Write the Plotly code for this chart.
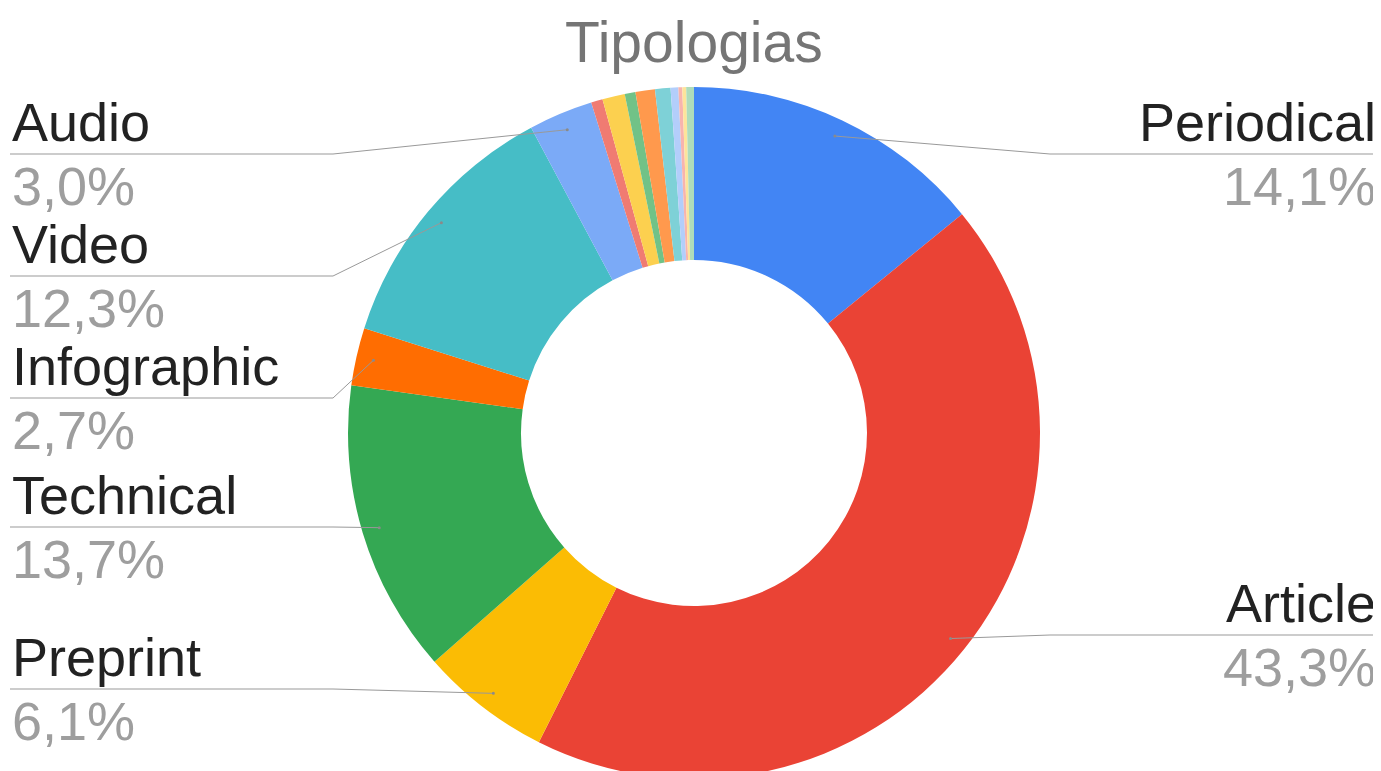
import math
import plotly.graph_objects as go

# data
categories = ["Periodical", "Article", "Preprint", "Technical", "Infographic", "Video", "Audio",
              "Other 1", "Other 2", "Other 3", "Other 4", "Other 5", "Other 6", "Other 7", "Other 8", "Other 9"]
shares = [14.1, 43.3, 6.1, 13.7, 2.7, 12.3, 3.0,
          0.54, 1.05, 0.50, 0.91, 0.72, 0.36, 0.18, 0.18, 0.36]
colors = ["#4285F4", "#EA4335", "#FBBC04", "#34A853", "#FF6D01", "#46BDC6", "#7BAAF7",
          "#F07B72", "#FCD04F", "#71C287", "#FF994D", "#7ED1D7", "#B3CEFB", "#F7B4AE", "#FDE49B", "#AEDCBA"]
labelled = ["Periodical", "Article", "Preprint", "Technical", "Infographic", "Video", "Audio"]

W, H = 1381, 771
OFF = 8  # page body margin: the figure starts 8px in from the window corner
CX, CY, R = 694, 433, 346  # pie centre / radius in window pixels

# label rows: side and y of the underline (window pixels)
label_rows = {
    "Periodical": ("right", 154),
    "Article": ("right", 635),
    "Audio": ("left", 154),
    "Video": ("left", 276),
    "Infographic": ("left", 398),
    "Technical": ("left", 527),
    "Preprint": ("left", 689),
}

FONT = "Arial, Liberation Sans, sans-serif"


def px(x):
    return (x - OFF) / W


def py(y):
    return 1 - (y - OFF) / H


fig = go.Figure(go.Pie(
    labels=categories,
    values=shares,
    hole=0.5,
    sort=False,
    direction="clockwise",
    rotation=0,
    marker=dict(colors=colors, line=dict(width=0)),
    textinfo="none",
    showlegend=False,
    domain=dict(x=[px(CX - R), px(CX + R)], y=[py(CY + R), py(CY - R)]),
))

total = sum(shares)
shapes = []
annotations = []
cum = 0
for name, v in zip(categories, shares):
    mid = (cum + v / 2) / total * 2 * math.pi
    cum += v
    if name not in labelled:
        continue
    side, ly = label_rows[name]
    dx = 0.95 * R * math.sin(mid)
    dy = -0.95 * R * math.cos(mid)
    dot_x, dot_y = CX + dx, CY + dy
    if side == "left":
        edge, elbow, xa, tx = 10, 333, "left", 10
    else:
        edge, elbow, xa, tx = 1378, max(1050, dot_x), "right", 1378
    shapes.append(dict(
        type="path", xref="paper", yref="paper",
        path=f"M {px(edge)},{py(ly)} L {px(elbow)},{py(ly)} L {px(dot_x)},{py(dot_y)}",
        line=dict(color="#999999", width=1),
    ))
    shapes.append(dict(
        type="circle", xref="paper", yref="paper",
        x0=px(dot_x - 1.5), x1=px(dot_x + 1.5), y0=py(dot_y + 1.5), y1=py(dot_y - 1.5),
        fillcolor="#8a8a8a", line=dict(width=0),
    ))
    pct = f"{v / total * 100:.1f}%".replace(".", ",")
    annotations.append(dict(
        x=px(tx), y=py(ly), xref="paper", yref="paper", xanchor=xa, yanchor="bottom",
        text=name, showarrow=False, font=dict(family=FONT, size=54, color="#222222"),
    ))
    annotations.append(dict(
        x=px(tx), y=py(ly), xref="paper", yref="paper", xanchor=xa, yanchor="top",
        text=pct, showarrow=False, font=dict(family=FONT, size=54, color="#9e9e9e"),
    ))

# title as an annotation so its baseline can sit close to the top edge
annotations.append(dict(
    x=px(CX), y=py(8), xref="paper", yref="paper", xanchor="center", yanchor="top",
    text="Tipologias", showarrow=False, font=dict(family=FONT, size=57, color="#757575"),
))

fig.update_layout(
    width=W, height=H,
    margin=dict(l=0, r=0, t=0, b=0),
    paper_bgcolor="white",
    shapes=shapes,
    annotations=annotations,
)

fig.write_html("out.html")
